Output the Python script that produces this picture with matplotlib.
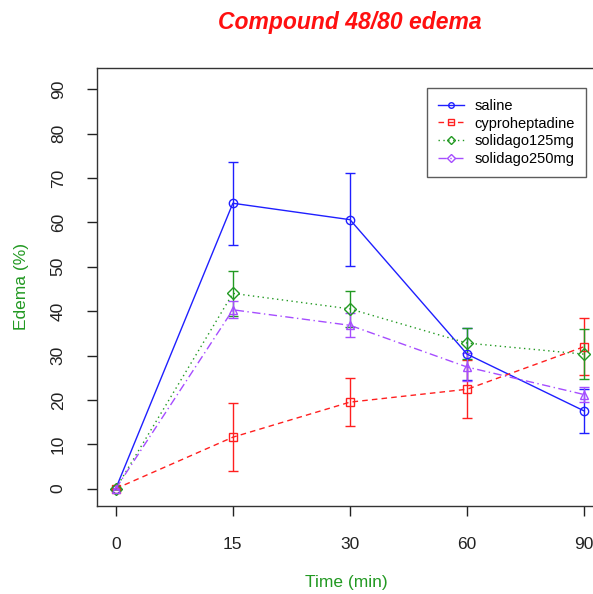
import matplotlib
matplotlib.use('Agg')
import matplotlib.pyplot as plt
from matplotlib.lines import Line2D

plt.rcParams['font.family'] = ['Liberation Sans', 'DejaVu Sans']

times = ['0', '15', '30', '60', '90']
saline = [0, 64.3, 60.6, 30.3, 17.5]
saline_err = [0, 9.3, 10.5, 5.9, 5.0]
cypro = [0, 11.6, 19.5, 22.4, 32.0]
cypro_err = [0, 7.7, 5.4, 6.5, 6.5]
sol125 = [0, 44.0, 40.5, 32.8, 30.3]
sol125_err = [0, 5.1, 4.0, 3.5, 5.7]
sol250 = [0, 40.3, 36.8, 27.4, 21.2]
sol250_err = [0, 1.9, 2.7, 3.2, 1.6]

series = [
    ('saline', saline, saline_err, '#1f1fff', '-', 'o', 'o'),
    ('cyproheptadine', cypro, cypro_err, '#ff1f1f', (0, (4, 3)), 's', 's'),
    ('solidago125mg', sol125, sol125_err, '#229922', (0, (1, 2.5)), 'D', 'D'),
    ('solidago250mg', sol250, sol250_err, '#a64dff', (0, (6, 2.5, 1, 2.5)), '^', 'D'),
]

fig = plt.figure(figsize=(5.93, 5.94), dpi=100)
W, H = 593, 594
ax = fig.add_axes([97 / W, 1 - 506 / H, (603 - 97) / W, (506 - 68.3) / H])

x = list(range(1, len(times) + 1))
handles = []
for name, vals, errs, col, ls, mk, lmk in series:
    ax.errorbar(x, vals, yerr=errs, color=col, ls=ls, lw=1.0, marker=mk,
                ms=6, mfc='none', mec=col, mew=1.0, capsize=3.6, capthick=1.0,
                elinewidth=1.0, clip_on=False)
    handles.append(Line2D([], [], color=col, ls=ls, lw=1.0, marker=lmk, ms=4,
                          mfc='none', mec=col, mew=1.0))

ax.set_xlim(0.84, 5.16)
ax.set_ylim(-3.9, 94.7)
ax.set_xticks(x)
ax.set_xticklabels(times)
ax.set_yticks(range(0, 91, 10))
ax.tick_params(axis='both', direction='out', length=7.5, width=1.0,
               labelsize=12.5, colors='#222222')
ax.tick_params(axis='x', pad=14.5)
ax.tick_params(axis='y', pad=15)
for lab in ax.get_yticklabels():
    lab.set_rotation(90)
    lab.set_va('center')
for sp in ax.spines.values():
    sp.set_color('#333333')
    sp.set_linewidth(1.0)

leg = ax.legend(handles, [s[0] for s in series], loc='upper left',
                bbox_to_anchor=((427 - 97) / (603 - 97), 1 - (88 - 68.3) / (506 - 68.3)),
                fontsize=10.5, frameon=True, fancybox=False, edgecolor='#333333',
                handlelength=1.8, handletextpad=0.7, borderpad=0.75,
                labelspacing=0.25, borderaxespad=0)
leg.get_frame().set_linewidth(1.0)

fig.text(350 / W, 1 - 23 / H, 'Compound 48/80 edema', color='#ff1010',
         fontsize=16.5, fontweight='bold', fontstyle='italic',
         ha='center', va='center')
fig.text(346 / W, 1 - 583 / H, 'Time (min)', color='#229922', fontsize=12.5,
         ha='center', va='center')
fig.text(22 / W, 1 - 287 / H, 'Edema (%)', color='#229922', fontsize=12.5,
         ha='center', va='center', rotation=90)

fig.savefig('out.png', dpi=100)
